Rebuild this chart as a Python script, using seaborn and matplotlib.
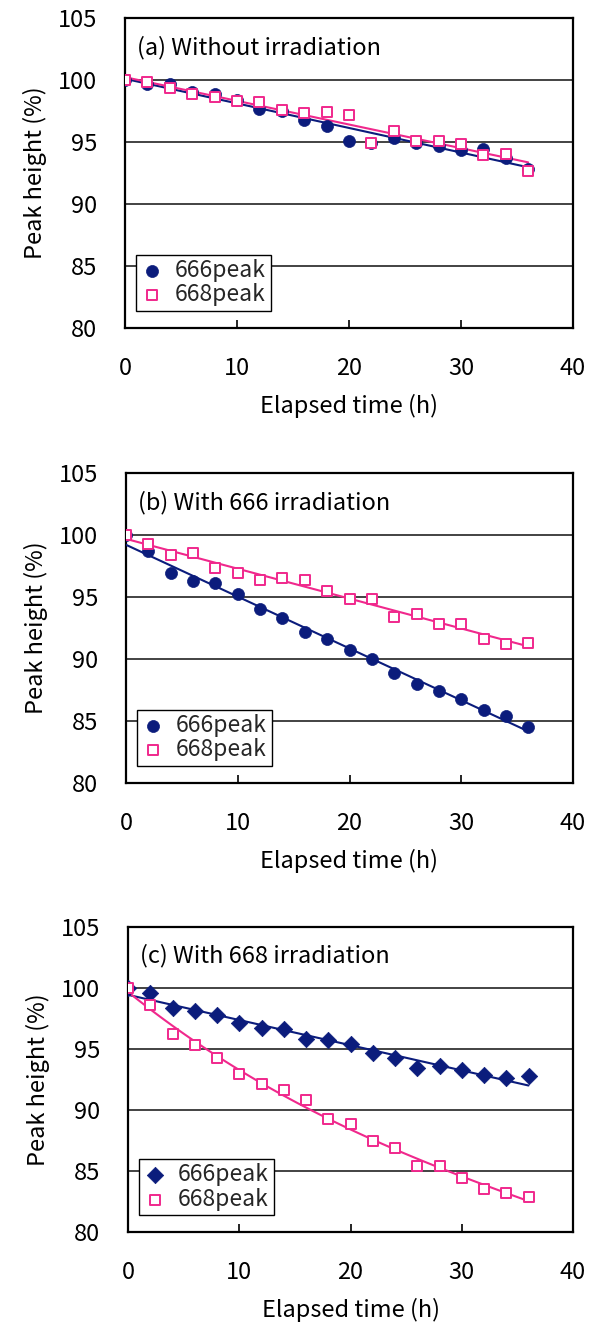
"""Peak height decay of the 666/668 peaks under three irradiation conditions."""

import matplotlib
matplotlib.use("Agg")
import matplotlib.pyplot as plt
import numpy as np
import pandas as pd
import seaborn as sns

# elapsed time (h)
hours = [0, 2, 4, 6, 8, 10, 12, 14, 16, 18, 20, 22, 24, 26, 28, 30, 32, 34, 36]

# (a) without irradiation
a_666 = [100, 99.7, 99.65, 99.0, 98.85, 98.4, 97.7, 97.5, 96.8, 96.3,
         95.05, 94.9, 95.3, 94.9, 94.7, 94.35, 94.4, 93.75, 92.8]
a_668 = [100, 99.8, 99.35, 98.9, 98.6, 98.3, 98.2, 97.6, 97.35, 97.4,
         97.15, 94.95, 95.85, 95.05, 95.1, 94.8, 93.95, 94.0, 92.7]

# (b) with 666 irradiation
b_666 = [100, 98.7, 96.95, 96.3, 96.1, 95.25, 94.05, 93.3, 92.2, 91.6,
         90.75, 90.0, 88.85, 88.0, 87.4, 86.8, 85.9, 85.4, 84.5]
b_668 = [100, 99.3, 98.4, 98.55, 97.3, 96.95, 96.4, 96.5, 96.4, 95.5,
         94.8, 94.8, 93.4, 93.65, 92.8, 92.8, 91.65, 91.2, 91.3]

# (c) with 668 irradiation
c_666 = [100, 99.6, 98.35, 98.1, 97.8, 97.1, 96.7, 96.6, 95.85, 95.7,
         95.4, 94.65, 94.3, 93.45, 93.6, 93.3, 92.9, 92.6, 92.75]
c_668 = [100, 98.6, 96.25, 95.35, 94.3, 92.95, 92.1, 91.6, 90.8, 89.25,
         88.85, 87.5, 86.85, 85.4, 85.4, 84.4, 83.5, 83.2, 82.9]

panel_titles = ["(a) Without irradiation", "(b) With 666 irradiation",
                "(c) With 668 irradiation"]
series_names = ["666peak", "668peak"]
x_ticks = [0, 10, 20, 30, 40]
y_ticks = [80, 85, 90, 95, 100, 105]

NAVY = "#0B1C7C"
PINK = "#F0288C"
FS = 17

sns.set_theme(style="white")
plt.rcParams["font.family"] = ["Noto Sans CJK JP", "DejaVu Sans"]

fig = plt.figure(figsize=(5.94, 13.23), dpi=100)
W, H = 594, 1323
# axes boxes in pixels: left, top, right, bottom
boxes = [(125, 18, 573, 328), (126, 473, 573, 783), (128, 927, 573, 1232)]

panels = [
    (a_666, a_668, "o", 1),
    (b_666, b_668, "o", 1),
    (c_666, c_668, "D", 3),
]

for (l, t, r, b), title, (y666, y668, mk666, order668) in zip(boxes, panel_titles, panels):
    ax = fig.add_axes([l / W, 1 - b / H, (r - l) / W, (b - t) / H])
    df = pd.DataFrame({"time": hours, "p666": y666, "p668": y668})

    # trend lines
    sns.regplot(data=df, x="time", y="p666", ax=ax, scatter=False, ci=None,
                line_kws={"color": NAVY, "lw": 1.5, "zorder": 3})
    sns.regplot(data=df, x="time", y="p668", ax=ax, scatter=False, ci=None,
                order=order668, line_kws={"color": PINK, "lw": 1.5, "zorder": 3})

    # data points
    s666 = 75 if mk666 == "o" else 70
    h1 = ax.scatter(df["time"], df["p666"], marker=mk666, s=s666, color=NAVY,
                    edgecolor=NAVY, linewidth=0.5, zorder=4, label=series_names[0])
    h2 = ax.scatter(df["time"], df["p668"], marker="s", s=55, facecolor="white",
                    edgecolor=PINK, linewidth=1.4, zorder=5, label=series_names[1])

    ax.set_xlim(0, 40)
    ax.set_ylim(80, 105)
    ax.set_xticks(x_ticks)
    ax.set_yticks(y_ticks)
    ax.tick_params(axis="x", direction="in", length=6, width=1.2, pad=21,
                   labelsize=FS, bottom=True, colors="black")
    ax.tick_params(axis="y", length=0, pad=20, labelsize=FS, colors="black")

    ax.yaxis.grid(True, color="#222222", lw=1.2)
    ax.xaxis.grid(False)
    ax.set_axisbelow(True)
    for sp in ax.spines.values():
        sp.set_visible(True)
        sp.set_color("black")
        sp.set_linewidth(1.6)

    ax.set_xlabel("Elapsed time (h)", fontsize=FS, labelpad=10, color="black")
    ax.set_ylabel("Peak height (%)", fontsize=FS, labelpad=8, color="black")

    ax.text(0.027, 0.905, title, transform=ax.transAxes, fontsize=FS,
            ha="left", va="center", color="black")

    leg = ax.legend(handles=[h1, h2], loc="lower left", fontsize=16.5,
                    frameon=True, fancybox=False, framealpha=1,
                    edgecolor="black", borderaxespad=0.0,
                    bbox_to_anchor=(0.025, 0.055), handletextpad=0.5,
                    borderpad=0.2, labelspacing=0.05, handlelength=1.0)
    leg.get_frame().set_linewidth(1.0)

fig.savefig("out.png", dpi=100)
